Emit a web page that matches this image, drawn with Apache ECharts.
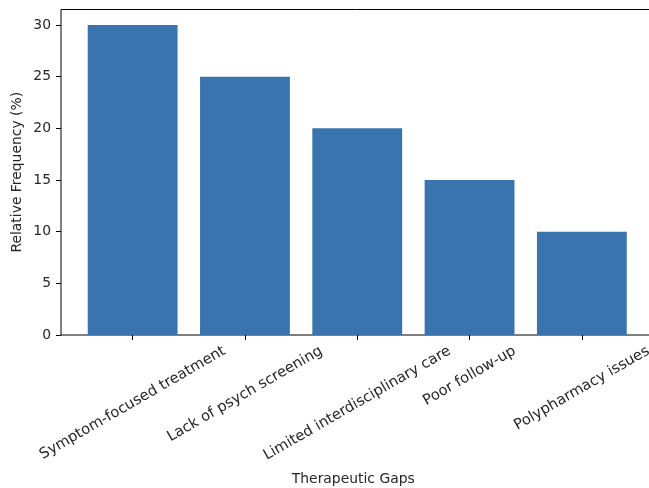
<!DOCTYPE html>
<html><head><meta charset="utf-8">
<script src="https://cdn.jsdelivr.net/npm/echarts@6/dist/echarts.min.js"></script>
<style>html,body{margin:0;padding:0;background:#fff}#c{width:649px;height:488px}</style>
</head><body><div id="c"></div>
<script>
const categories = ['Symptom-focused treatment', 'Lack of psych screening', 'Limited interdisciplinary care', 'Poor follow-up', 'Polypharmacy issues'];
const frequencies = [30, 25, 20, 15, 10];
const yTicks = [0, 5, 10, 15, 20, 25, 30];

const FONT = 'DejaVu Sans';
const FS = 13.9;
const FSX = 14.7;
const TXT = '#262626';
const ctx = document.createElement('canvas').getContext('2d');
ctx.font = FSX + 'px "' + FONT + '"';
const catData = categories.map(function (c) {
  const L = ctx.measureText(c).width;
  return {
    value: c,
    textStyle: {
      align: 'center', verticalAlign: 'middle',
      padding: [0, L / 4, 0, 0],
      rich: { sp: { fontSize: 1, lineHeight: 0.433 * L } }
    }
  };
});

const chart = echarts.init(document.getElementById('c'), null, { renderer: 'canvas' });
chart.setOption({
  animation: false,
  backgroundColor: '#fff',
  textStyle: { fontFamily: FONT },
  grid: [
    { left: 61, top: 9.5, width: 593, bottom: 153, show: true, borderColor: '#000', borderWidth: 1, backgroundColor: 'transparent', containLabel: false, outerBoundsMode: 'none' },
    { left: 76.5, top: 9.5, width: 561.5, bottom: 153, containLabel: false, outerBoundsMode: 'none' }
  ],
  xAxis: [
    { gridIndex: 0, type: 'value', show: false },
    {
      gridIndex: 1, type: 'category', data: catData,
      axisLine: { show: false },
      axisTick: { show: true, alignWithLabel: true, length: 5, lineStyle: { color: '#000', width: 1 } },
      axisLabel: {
        interval: 0, rotate: 30, align: 'center', verticalAlign: 'middle', margin: 15,
        fontSize: FSX, color: TXT, fontFamily: FONT,
        formatter: function (v) { return '{sp| }\n' + v; }
      },
      name: 'Therapeutic Gaps', nameLocation: 'middle', nameGap: 137, nameMoveOverlap: false,
      nameTextStyle: { fontSize: FS, color: TXT, fontFamily: FONT, verticalAlign: 'top', padding: [0, 8, 0, 0] }
    }
  ],
  yAxis: [
    {
      gridIndex: 0, type: 'value', min: 0, max: 31.5,
      axisLine: { show: false },
      splitLine: { show: false },
      axisTick: { show: true, length: 5, customValues: yTicks, lineStyle: { color: '#000', width: 1 } },
      axisLabel: { customValues: yTicks, margin: 10, fontSize: FS, color: TXT, fontFamily: FONT },
      name: 'Relative Frequency (%)', nameLocation: 'middle', nameRotate: 90, nameGap: 37, nameMoveOverlap: false,
      nameTextStyle: { fontSize: FS, color: TXT, fontFamily: FONT }
    },
    { gridIndex: 1, type: 'value', min: 0, max: 31.5, show: false }
  ],
  series: [{
    type: 'bar', xAxisIndex: 1, yAxisIndex: 1,
    data: frequencies, barWidth: '80%',
    itemStyle: { color: '#3a74ae' }
  }]
});
</script></body></html>
